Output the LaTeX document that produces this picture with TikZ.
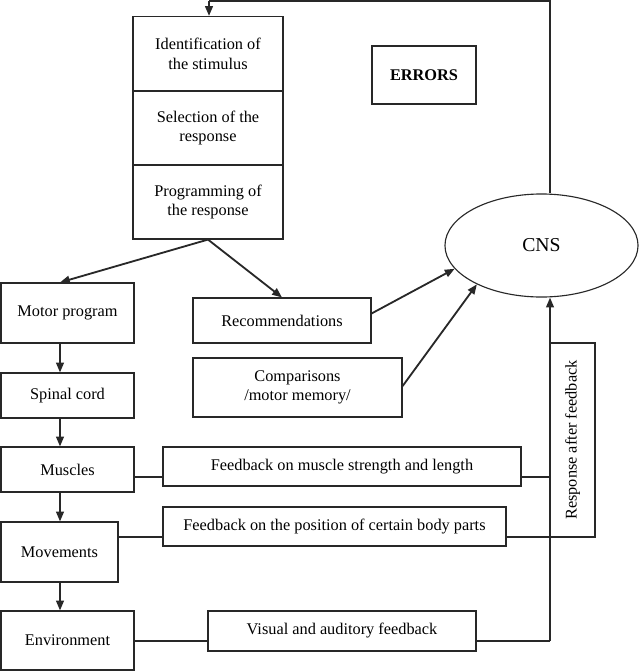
\documentclass[tikz,border=0pt]{standalone}
\usepackage{fontspec}
\setmainfont{Liberation Serif}
\usepackage{tikz}
\usetikzlibrary{arrows.meta,positioning,shapes.geometric}
\definecolor{inkgray}{RGB}{40,40,40}

\tikzset{
  box/.style={draw=inkgray, line width=0.8pt, align=center, inner sep=2pt},
  link/.style={-{Triangle[length=7pt,width=5.5pt]}, line width=1.3pt, draw=inkgray, fill=inkgray},
  wire/.style={line width=1pt, draw=inkgray}
}

\begin{document}
\begin{tikzpicture}[x=0.025cm, y=-0.025cm,
    every node/.style={font=\fontsize{11.6}{13.9}\selectfont, text=black}]
    \useasboundingbox (0,0) rectangle (640,672);
    % Processing stack
    \node[box, minimum width=3.75cm, minimum height=1.875cm] (ident) at (208,54) {Identification of\\the stimulus};
    \node[box, minimum width=3.75cm, minimum height=1.85cm] (select) at (208,128) {Selection of the\\response};
    \node[box, minimum width=3.75cm, minimum height=1.85cm] (prog) at (208,202) {Programming of\\the response};
    % Errors and CNS
    \node[box, minimum width=2.6cm, minimum height=1.45cm, font=\fontsize{11.6}{13.7}\selectfont\bfseries] (errors) at (424,75) {ERRORS};
    \node[box, ellipse, inner sep=0pt, minimum width=4.825cm, minimum height=2.575cm, font=\fontsize{14}{16}\selectfont] (cns) at (541.5,245.5) {CNS};
    % Motor chain
    \node[box, minimum width=3.325cm, minimum height=1.5cm] (motor) at (67.5,313) {Motor program};
    \node[box, minimum width=3.325cm, minimum height=1.125cm] (spinal) at (67.5,395.5) {Spinal cord};
    \node[box, minimum width=3.325cm, minimum height=1.125cm] (muscles) at (67.5,469.5) {Muscles};
    \node[box, minimum width=2.925cm, minimum height=1.5cm] (movements) at (59.5,552) {Movements};
    \node[box, minimum width=3.325cm, minimum height=1.475cm] (environment) at (67.5,640.5) {Environment};
    % Middle boxes
    \node[box, minimum width=4.45cm, minimum height=1.125cm] (recomm) at (282,320.5) {Recommendations};
    \node[box, minimum width=5.225cm, minimum height=1.475cm] (compar) at (297.5,387.5) {Comparisons\\/motor memory/};
    % Feedback boxes
    \node[box, minimum width=8.95cm, minimum height=0.975cm] (fbmuscle) at (342,466.5) {Feedback on muscle strength and length};
    \node[box, minimum width=8.575cm, minimum height=0.975cm] (fbposition) at (334.5,526.5) {Feedback on the position of certain body parts};
    \node[box, minimum width=6.7cm, minimum height=1.0cm] (fbvisual) at (342,631) {Visual and auditory feedback};
    \node[box, rotate=90, minimum width=4.85cm, minimum height=1.125cm] (response) at (572.5,440) {Response after feedback};
    % Helper points
    \coordinate (col) at (60,0);
    \coordinate (topL) at (209,1);
    \coordinate (topR) at (550,1);
    \coordinate (rm) at (550,477);
    \coordinate (rp) at (595,537);
    \coordinate (rv) at (550,641);
    % Loop back to the stack
    \draw[wire] (topR |- cns.north) -- (topR) -- (topL);
    \draw[link] (topL) -- (ident.north -| topL);
    % Arrows from programming
    \draw[link] (prog.south) -- (motor.north -| col);
    \draw[link] (prog.south) -- (recomm.north);
    \draw[link] ([yshift=5pt]recomm.east) -- (cns.195);
    \draw[link] ([yshift=1pt]compar.east) -- (cns.211);
    % Motor chain arrows
    \draw[link] (motor.south -| col) -- (spinal.north -| col);
    \draw[link] (spinal.south -| col) -- (muscles.north -| col);
    \draw[link] (muscles.south -| col) -- (movements.north -| col);
    \draw[link] (movements.south -| col) -- (environment.north -| col);
    % Feedback lines
    \draw[wire] (muscles.east |- rm) -- (fbmuscle.west |- rm);
    \draw[wire] (fbmuscle.east |- rm) -- (rm);
    \draw[wire] (movements.east |- rp) -- (fbposition.west |- rp);
    \draw[wire] (fbposition.east |- rp) -- (rp);
    \draw[wire] (environment.east |- rv) -- (fbvisual.west |- rv);
    \draw[wire] (fbvisual.east |- rv) -- (rv);
    \draw[link] (rv) -- (cns.south -| rv);
\end{tikzpicture}
\end{document}
